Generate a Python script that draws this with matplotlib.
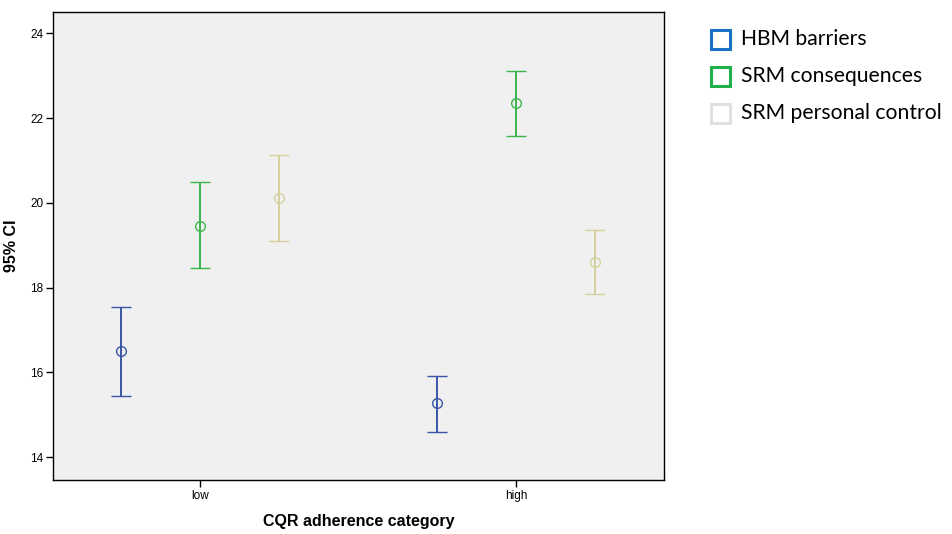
import numpy as np
import matplotlib.pyplot as plt
from matplotlib.patches import Rectangle

# CQR adherence categories and 95% CI per scale (mean, lower, upper)
categories = ['low', 'high']
series_names = ['HBM barriers', 'SRM consequences', 'SRM personal control']
means = [[16.51, 15.28], [19.46, 22.35], [20.12, 18.61]]
lower = [[15.44, 14.59], [18.47, 21.57], [19.11, 17.85]]
upper = [[17.55, 15.91], [20.48, 23.10], [21.12, 19.37]]

bar_colors = ['#3a55a8', '#3cb54b', '#d6d09c']
legend_colors = ['#1a70c4', '#20b04a', '#e0e0e0']
offsets = [-0.25, 0.0, 0.25]

W, H = 952, 534
fig = plt.figure(figsize=(W / 100, H / 100), dpi=100)
ax = fig.add_axes([0.0557, 0.101, 0.6418, 0.8765])
ax.set_facecolor('#f0f0f0')

x = np.arange(1, len(categories) + 1)
for i in range(len(series_names)):
    m = np.array(means[i])
    lo = m - np.array(lower[i])
    hi = np.array(upper[i]) - m
    ax.errorbar(x + offsets[i], m, yerr=[lo, hi], fmt='o', color=bar_colors[i],
                mfc='none', mec=bar_colors[i], ms=7, mew=1.0,
                elinewidth=1.4, capsize=7.2, capthick=1.8)

ax.set_xlim(0.535, 2.468)
ax.set_ylim(13.46, 24.5)
ax.set_xticks(x)
ax.set_xticklabels(categories)
ax.set_yticks([14, 16, 18, 20, 22, 24])

for s in ax.spines.values():
    s.set_linewidth(1.0)
    s.set_color('black')
ax.tick_params(direction='out', length=5, width=1, labelsize=8.5, pad=2)
for lab in ax.get_xticklabels() + ax.get_yticklabels():
    lab.set_fontfamily('Liberation Sans')

ax.set_xlabel('CQR adherence category', fontsize=11.5, fontweight='bold',
              family='Liberation Sans', labelpad=9)
ax.set_ylabel('95% CI', fontsize=11.5, fontweight='bold',
              family='Liberation Sans', labelpad=8)

# legend: outlined squares with labels, laid out in pixel terms
box = 19
for i, (c, n) in enumerate(zip(legend_colors, series_names)):
    yc = 39 + i * 37
    fig.patches.append(Rectangle((711 / W, (H - yc - box / 2) / H), box / W, box / H,
                                 transform=fig.transFigure, facecolor='none',
                                 edgecolor=c, linewidth=2.2))
    fig.text(741 / W, (H - yc) / H, n, ha='left', va='center',
             family='Lato', fontsize=15.2)

fig.savefig('out.png', dpi=100)
